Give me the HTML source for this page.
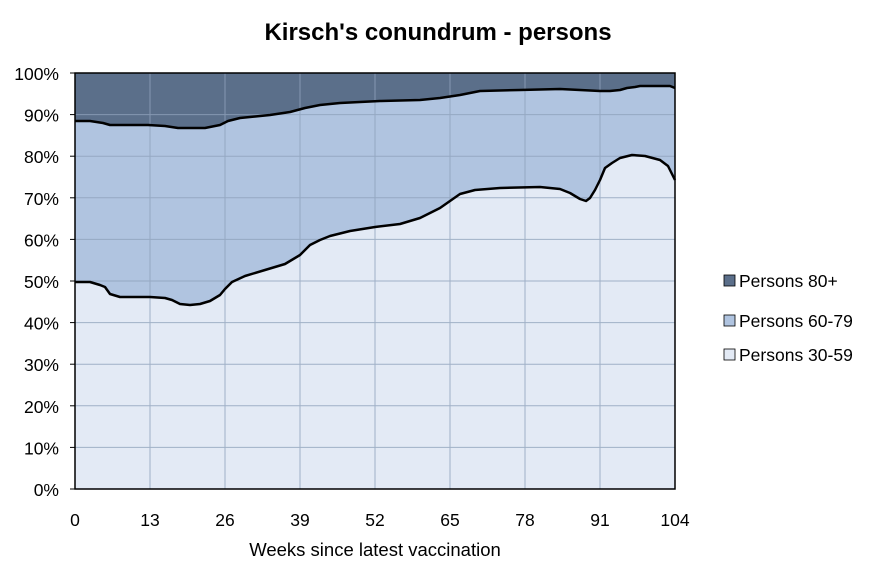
<!DOCTYPE html>
<html><head><style>body{margin:0;background:#fff}svg{display:block}text{font-family:"Liberation Sans",sans-serif;fill:#000}</style></head><body>
<svg width="877" height="583" viewBox="0 0 877 583" xmlns="http://www.w3.org/2000/svg">
<rect width="877" height="583" fill="#fff"/>
<text x="438" y="40" font-size="24" font-weight="bold" text-anchor="middle">Kirsch's conundrum - persons</text>
<rect x="75" y="73" width="600" height="416" fill="#5b6f8a"/>
<polygon fill="#b0c4e0" points="75,121 90,121 103,123 110,125 148,125 165,126 178,128 205,128 220,125 228,121 240,118 270,115 290,112 305,108 320,105 340,103 380,101 420,100 440,98 460,95 475,92 480,91 520,90 560,89 580,90 600,91 610,91 620,90 627,88 635,87 640,86 660,86 670,86 675,88 675,489 75,489"/>
<polygon fill="#e3eaf5" points="75,282 90,282 100,285 105,287 110,294 120,297 150,297 165,298 172,300 180,304 190,305 200,304 210,301 220,295 225,289 232,282 245,276 265,270 285,264 300,255 310,245 320,240 330,236 350,231 375,227 400,224 420,218 440,208 460,194 475,190 500,188 540,187 560,189 570,193 580,199 586,201 590,198 595,190 600,180 605,168 612,163 620,158 632,155 645,156 660,160 668,166 675,180 675,489 75,489"/>
<g stroke="#8fa2bb" stroke-width="1" opacity="0.8">
<line x1="75" y1="114.6" x2="675" y2="114.6"/><line x1="75" y1="156.2" x2="675" y2="156.2"/><line x1="75" y1="197.8" x2="675" y2="197.8"/><line x1="75" y1="239.4" x2="675" y2="239.4"/><line x1="75" y1="281" x2="675" y2="281"/><line x1="75" y1="322.6" x2="675" y2="322.6"/><line x1="75" y1="364.2" x2="675" y2="364.2"/><line x1="75" y1="405.8" x2="675" y2="405.8"/><line x1="75" y1="447.4" x2="675" y2="447.4"/>
<line x1="150" y1="73" x2="150" y2="489"/><line x1="225" y1="73" x2="225" y2="489"/><line x1="300" y1="73" x2="300" y2="489"/><line x1="375" y1="73" x2="375" y2="489"/><line x1="450" y1="73" x2="450" y2="489"/><line x1="525" y1="73" x2="525" y2="489"/><line x1="600" y1="73" x2="600" y2="489"/>
</g>
<g fill="none" stroke="#000" stroke-width="2.5" stroke-linejoin="round">
<polyline points="75,121 90,121 103,123 110,125 148,125 165,126 178,128 205,128 220,125 228,121 240,118 270,115 290,112 305,108 320,105 340,103 380,101 420,100 440,98 460,95 475,92 480,91 520,90 560,89 580,90 600,91 610,91 620,90 627,88 635,87 640,86 660,86 670,86 675,88"/>
<polyline points="75,282 90,282 100,285 105,287 110,294 120,297 150,297 165,298 172,300 180,304 190,305 200,304 210,301 220,295 225,289 232,282 245,276 265,270 285,264 300,255 310,245 320,240 330,236 350,231 375,227 400,224 420,218 440,208 460,194 475,190 500,188 540,187 560,189 570,193 580,199 586,201 590,198 595,190 600,180 605,168 612,163 620,158 632,155 645,156 660,160 668,166 675,180"/>
</g>
<rect x="75" y="73" width="600" height="416" fill="none" stroke="#000" stroke-width="1.5"/>
<g stroke="#000" stroke-width="1"><line x1="70" y1="73" x2="75" y2="73"/><line x1="70" y1="114.6" x2="75" y2="114.6"/><line x1="70" y1="156.2" x2="75" y2="156.2"/><line x1="70" y1="197.8" x2="75" y2="197.8"/><line x1="70" y1="239.4" x2="75" y2="239.4"/><line x1="70" y1="281" x2="75" y2="281"/><line x1="70" y1="322.6" x2="75" y2="322.6"/><line x1="70" y1="364.2" x2="75" y2="364.2"/><line x1="70" y1="405.8" x2="75" y2="405.8"/><line x1="70" y1="447.4" x2="75" y2="447.4"/><line x1="70" y1="489" x2="75" y2="489"/></g>
<g font-size="17.5" text-anchor="end">
<text x="59" y="80">100%</text><text x="59" y="121.6">90%</text><text x="59" y="163.2">80%</text><text x="59" y="204.8">70%</text><text x="59" y="246.4">60%</text><text x="59" y="288">50%</text><text x="59" y="329.6">40%</text><text x="59" y="371.2">30%</text><text x="59" y="412.8">20%</text><text x="59" y="454.4">10%</text><text x="59" y="496">0%</text>
</g>
<g font-size="17.5" text-anchor="middle">
<text x="75" y="526">0</text><text x="150" y="526">13</text><text x="225" y="526">26</text><text x="300" y="526">39</text><text x="375" y="526">52</text><text x="450" y="526">65</text><text x="525" y="526">78</text><text x="600" y="526">91</text><text x="675" y="526">104</text>
<text x="375" y="556" font-size="18.5">Weeks since latest vaccination</text>
</g>
<g font-size="17.5">
<rect x="724" y="275" width="11" height="11" fill="#5b6f8a" stroke="#000" stroke-width="0.8"/><text x="739" y="287">Persons 80+</text>
<rect x="724" y="315" width="11" height="11" fill="#b0c4e0" stroke="#000" stroke-width="0.8"/><text x="739" y="327">Persons 60-79</text>
<rect x="724" y="349" width="11" height="11" fill="#e3eaf5" stroke="#000" stroke-width="0.8"/><text x="739" y="361">Persons 30-59</text>
</g>
</svg>
</body></html>
